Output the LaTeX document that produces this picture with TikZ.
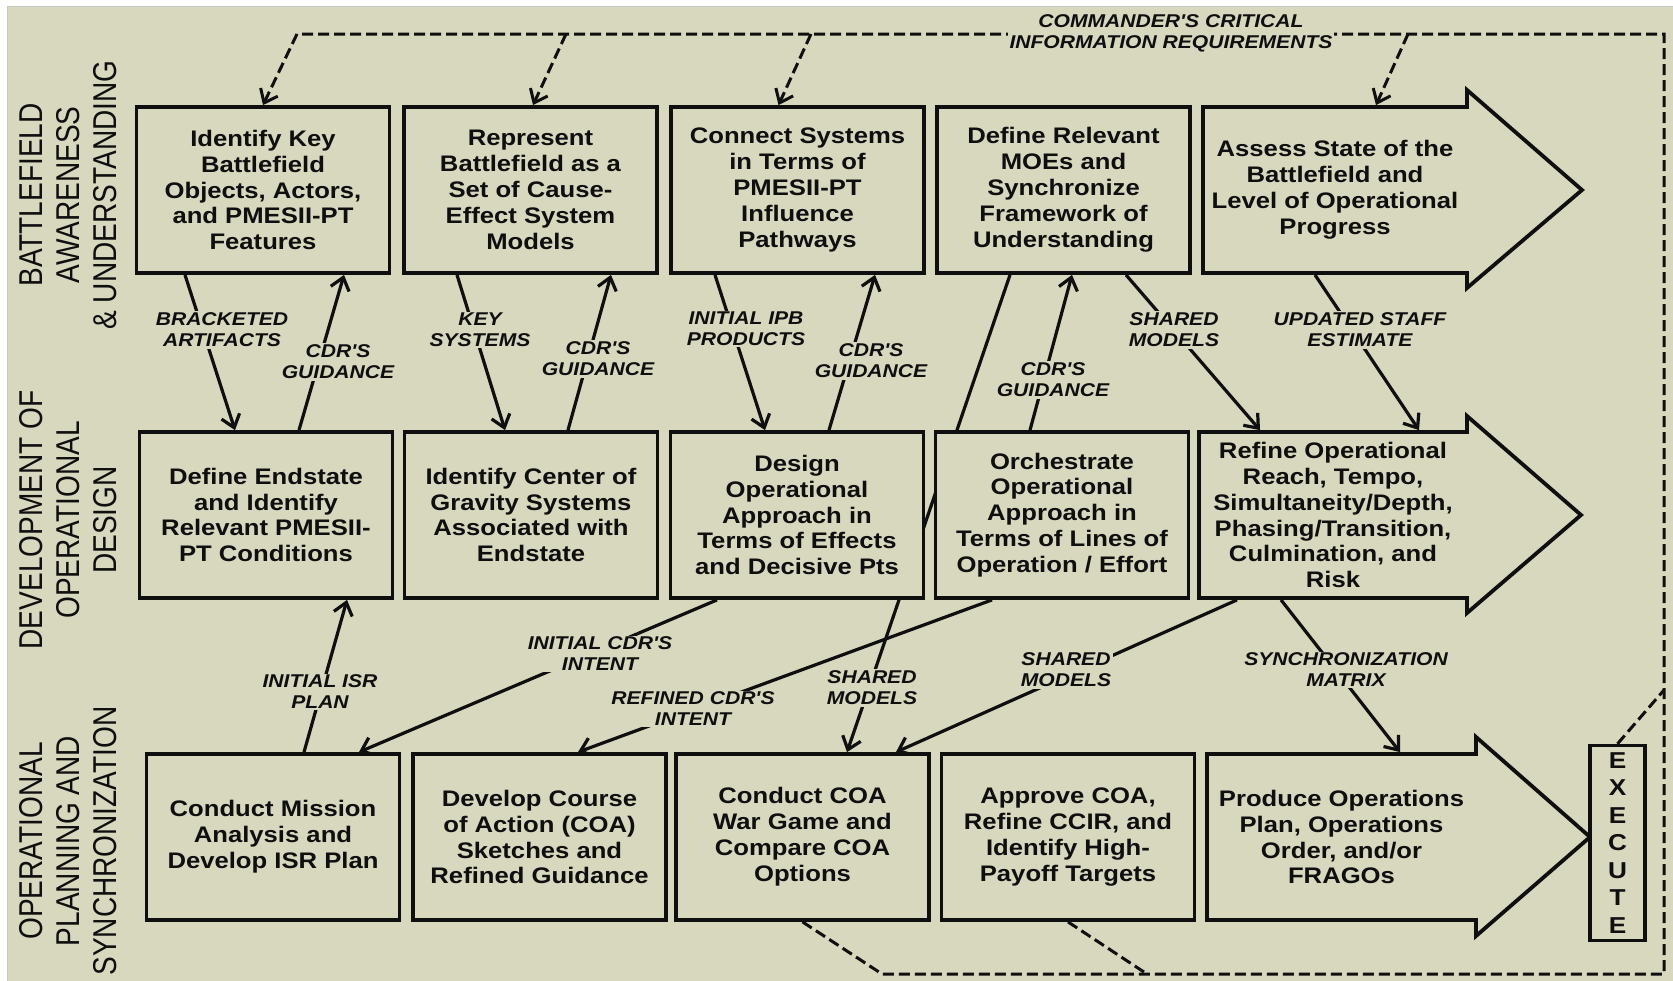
\documentclass[tikz,border=0pt]{standalone}
\usepackage{fontspec}
\setmainfont{Liberation Sans}
\newfontfamily\wfont[FakeStretch=1.14]{Liberation Sans}
\newfontfamily\lfont[FakeStretch=0.85]{Liberation Sans}
\usetikzlibrary{arrows.meta}
\definecolor{panel}{RGB}{216,216,190}
\definecolor{ink}{RGB}{15,15,15}
\pgfdeclarelayer{under}
\pgfsetlayers{under,main}

\begin{document}
\begin{tikzpicture}[x=1pt,y=-1pt,
  stepbox/.style={draw=ink, line width=3.8pt, fill=panel, minimum width=253pt,
    minimum height=166pt, inner sep=0pt, align=center, text=ink,
    font=\wfont\bfseries\fontsize{22.5}{25.9}\selectfont},
  arrowbody/.style={minimum width=#1, minimum height=166pt, inner sep=0pt,
    outer sep=1.9pt, align=center, text=ink,
    font=\wfont\bfseries\fontsize{22.5}{25.9}\selectfont},
  bigarrow/.style={draw=ink, fill=panel, line width=3.8pt, line join=miter},
  tag/.style={fill=panel, inner sep=1.5pt, align=center, text=ink,
    font=\wfont\bfseries\itshape\fontsize{18.5}{21}\selectfont},
  lane/.style={rotate=90, align=center, text=ink,
    font=\lfont\fontsize{33}{37}\selectfont},
  tip/.style={-{Straight Barb[length=12pt,width=19pt]}},
  flow/.style={draw=ink, line width=3.2pt, tip},
  ccir/.style={draw=ink, line width=3pt, dash pattern=on 11pt off 5pt},
]
\useasboundingbox (0,0) rectangle (1673,980);

% panel
\begin{pgfonlayer}{under}
  \fill[white] (0,0) rectangle (1673,980);
  \draw[gray!45, fill=panel, line width=1pt] (7,6) rectangle (1676,983);
\end{pgfonlayer}

% swim-lane titles
\node[lane] (laneA) at (68,195) {BATTLEFIELD\\AWARENESS\\\& UNDERSTANDING};
\node[lane] (laneB) at (68,520) {DEVELOPMENT OF\\OPERATIONAL\\DESIGN};
\node[lane] (laneC) at (68,841) {OPERATIONAL\\PLANNING AND\\SYNCHRONIZATION};

% row A
\node[stepbox] (A1) at (263,190) {Identify Key\\Battlefield\\Objects, Actors,\\and PMESII-PT\\Features};
\node[stepbox] (A2) at (530.5,190) {Represent\\Battlefield as a\\Set of Cause-\\Effect System\\Models};
\node[stepbox] (A3) at (797.5,190) {Connect Systems\\in Terms of\\PMESII-PT\\Influence\\Pathways};
\node[stepbox] (A4) at (1063.5,190) {Define Relevant\\MOEs and\\Synchronize\\Framework of\\Understanding};
\filldraw[bigarrow] (1203,107) -- (1467,107) -- (1467,90) -- (1582,190) -- (1467,288) -- (1467,273) -- (1203,273) -- cycle;
\node[arrowbody=264pt] (A5) at (1335,190) {Assess State of the\\Battlefield and\\Level of Operational\\Progress};

% row B
\node[stepbox] (B1) at (266,515) {Define Endstate\\and Identify\\Relevant PMESII-\\PT Conditions};
\node[stepbox] (B2) at (531,515) {Identify Center of\\Gravity Systems\\Associated with\\Endstate};
\node[stepbox] (B3) at (797,515) {Design\\Operational\\Approach in\\Terms of Effects\\and Decisive Pts};
\node[stepbox] (B4) at (1062,515) {Orchestrate\\Operational\\Approach in\\Terms of Lines of\\Operation / Effort};
\filldraw[bigarrow] (1199,432) -- (1467,432) -- (1467,416) -- (1581,515) -- (1467,613) -- (1467,598) -- (1199,598) -- cycle;
\node[arrowbody=268pt] (B5) at (1333,515) {Refine Operational\\Reach, Tempo,\\Simultaneity/Depth,\\Phasing/Transition,\\Culmination, and\\Risk};

% row C
\node[stepbox] (C1) at (273,837) {Conduct Mission\\Analysis and\\Develop ISR Plan};
\node[stepbox] (C2) at (539.5,837) {Develop Course\\of Action (COA)\\Sketches and\\Refined Guidance};
\node[stepbox] (C3) at (802.5,837) {Conduct COA\\War Game and\\Compare COA\\Options};
\node[stepbox] (C4) at (1068,837) {Approve COA,\\Refine CCIR, and\\Identify High-\\Payoff Targets};
\filldraw[bigarrow] (1207,754) -- (1476,754) -- (1476,737) -- (1590,837) -- (1476,936) -- (1476,920) -- (1207,920) -- cycle;
\node[arrowbody=269pt] (C5) at (1341.5,837) {Produce Operations\\Plan, Operations\\Order, and/or\\FRAGOs};

\node[draw=ink, line width=3.4pt, fill=panel, minimum width=55pt, minimum height=195pt,
  inner sep=0pt, align=center, text=ink, font=\wfont\bfseries\fontsize{23}{27.5}\selectfont]
  (X) at (1617.5,843) {E\\X\\E\\C\\U\\T\\E};

% CCIR loop corners
\coordinate (cTL) at (297,34);
\coordinate (cT2) at (566,34);
\coordinate (cT3) at (811,34);
\coordinate (cT4) at (1408,34);
\coordinate (cTR) at (1664,34);
\coordinate (cR)  at (1664,690);
\coordinate (cBR) at (1664,974);
\coordinate (cB2) at (1147,974);
\coordinate (cBL) at (882,974);

\begin{pgfonlayer}{under}
  % information flows between lanes
  \draw[flow] ([xshift=-78pt]A1.south) -- ([xshift=-31pt]B1.north);
  \draw[flow] ([xshift=33pt]B1.north) -- ([xshift=81pt]A1.south);
  \draw[flow] ([xshift=-73.5pt]A2.south) -- ([xshift=-26pt]B2.north);
  \draw[flow] ([xshift=37pt]B2.north) -- ([xshift=80.5pt]A2.south);
  \draw[flow] ([xshift=-82.5pt]A3.south) -- ([xshift=-32pt]B3.north);
  \draw[flow] ([xshift=32pt]B3.north) -- ([xshift=77.5pt]A3.south);
  \draw[flow] ([xshift=-53.5pt]A4.south) -- ([xshift=44.5pt]C3.north);
  \draw[flow] ([xshift=-32pt]B4.north) -- ([xshift=8.5pt]A4.south);
  \draw[flow] ([xshift=62.5pt]A4.south) -- ([xshift=-73pt]B5.north);
  \draw[flow] ([xshift=-20pt]A5.south) -- ([xshift=86pt]B5.north);
  \draw[flow] ([xshift=31pt]C1.north) -- ([xshift=81pt]B1.south);
  \draw[flow] ([xshift=-80pt]B3.south) -- ([xshift=86pt]C1.north);
  \draw[flow] ([xshift=-70pt]B4.south) -- ([xshift=38.5pt]C2.north);
  \draw[flow] ([xshift=-96pt]B5.south) -- ([xshift=93.5pt]C3.north);
  \draw[flow] ([xshift=-52pt]B5.south) -- ([xshift=58.5pt]C5.north);
  % commander's critical information requirements loop
  \draw[ccir] (C3.south) -- (cBL) -- (cBR) -- (cTR) -- (cTL);
  \draw[ccir] (C4.south) -- (cB2);
  \draw[ccir] (X.north) -- (cR);
  \draw[ccir, tip] (cTL) -- (A1.north);
  \draw[ccir, tip] (cT2) -- ([xshift=2.5pt]A2.north);
  \draw[ccir, tip] (cT3) -- ([xshift=-19pt]A3.north);
  \draw[ccir, tip] (cT4) -- ([xshift=41pt]A5.north);
\end{pgfonlayer}

% connector labels
\node[tag] (l1)  at (222,330)  {BRACKETED\\ARTIFACTS};
\node[tag] (l2)  at (338,362)  {CDR'S\\GUIDANCE};
\node[tag] (l3)  at (480,330)  {KEY\\SYSTEMS};
\node[tag] (l4)  at (598,359)  {CDR'S\\GUIDANCE};
\node[tag] (l5)  at (746,329)  {INITIAL IPB\\PRODUCTS};
\node[tag] (l6)  at (871,361)  {CDR'S\\GUIDANCE};
\node[tag] (l7)  at (1053,380) {CDR'S\\GUIDANCE};
\node[tag] (l8)  at (1174,330) {SHARED\\MODELS};
\node[tag] (l9)  at (1360,330) {UPDATED STAFF\\ESTIMATE};
\node[tag] (l10) at (320,692)  {INITIAL ISR\\PLAN};
\node[tag] (l11) at (600,654)  {INITIAL CDR'S\\INTENT};
\node[tag] (l12) at (693,709)  {REFINED CDR'S\\INTENT};
\node[tag] (l13) at (872,688)  {SHARED\\MODELS};
\node[tag] (l14) at (1066,670) {SHARED\\MODELS};
\node[tag] (l15) at (1346,670) {SYNCHRONIZATION\\MATRIX};
\node[tag] (l16) at (1171,33)  {COMMANDER'S CRITICAL\\INFORMATION REQUIREMENTS};
\end{tikzpicture}
\end{document}
